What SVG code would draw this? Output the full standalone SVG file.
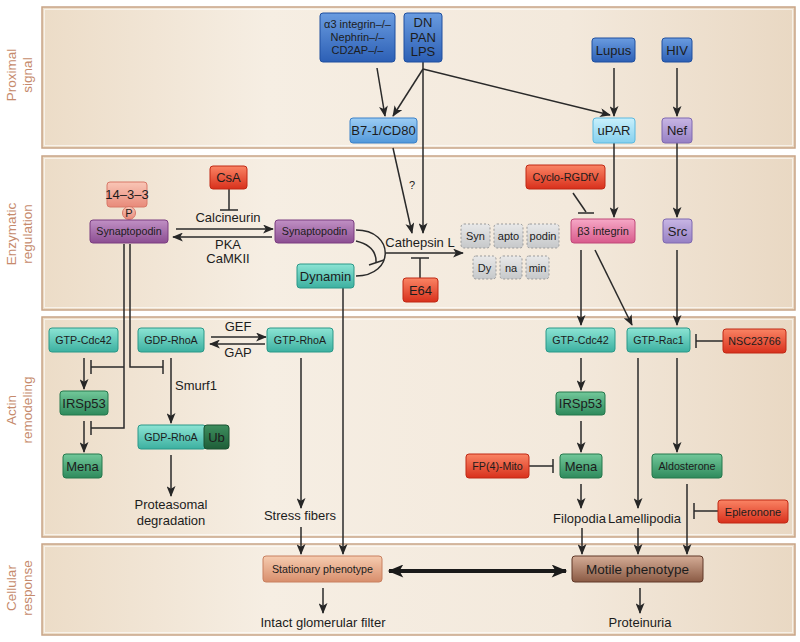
<svg xmlns="http://www.w3.org/2000/svg" width="800" height="642" viewBox="0 0 800 642">
<defs>
<linearGradient id="gPanel" x1="0" y1="0" x2="1" y2="0">
<stop offset="0" stop-color="#ecdcc7"/><stop offset="0.3" stop-color="#f6eee3"/><stop offset="0.7" stop-color="#f3e9dc"/><stop offset="1" stop-color="#e9d8c3"/>
</linearGradient>
<linearGradient id="gBlueD" x1="0" y1="0" x2="0" y2="1"><stop offset="0" stop-color="#6a9ce0"/><stop offset="1" stop-color="#2c5fb5"/></linearGradient>
<linearGradient id="gBlueL" x1="0" y1="0" x2="0" y2="1"><stop offset="0" stop-color="#9ccdf4"/><stop offset="1" stop-color="#5298da"/></linearGradient>
<linearGradient id="gCyan" x1="0" y1="0" x2="0" y2="1"><stop offset="0" stop-color="#c8f0fc"/><stop offset="1" stop-color="#86d0ee"/></linearGradient>
<linearGradient id="gLav" x1="0" y1="0" x2="0" y2="1"><stop offset="0" stop-color="#c8b6e4"/><stop offset="1" stop-color="#9680c4"/></linearGradient>
<linearGradient id="gPurp" x1="0" y1="0" x2="0" y2="1"><stop offset="0" stop-color="#c090c4"/><stop offset="1" stop-color="#8c4e92"/></linearGradient>
<linearGradient id="gSalm" x1="0" y1="0" x2="0" y2="1"><stop offset="0" stop-color="#f9c6b6"/><stop offset="1" stop-color="#e88a7a"/></linearGradient>
<linearGradient id="gRed" x1="0" y1="0" x2="0" y2="1"><stop offset="0" stop-color="#fa8464"/><stop offset="1" stop-color="#d8301c"/></linearGradient>
<linearGradient id="gPink" x1="0" y1="0" x2="0" y2="1"><stop offset="0" stop-color="#f6a8c6"/><stop offset="1" stop-color="#d85a8c"/></linearGradient>
<linearGradient id="gTeal" x1="0" y1="0" x2="0" y2="1"><stop offset="0" stop-color="#8ce4d4"/><stop offset="1" stop-color="#3cb0a0"/></linearGradient>
<linearGradient id="gGreen" x1="0" y1="0" x2="0" y2="1"><stop offset="0" stop-color="#72c89a"/><stop offset="1" stop-color="#2e8a5c"/></linearGradient>
<linearGradient id="gUb" x1="0" y1="0" x2="0" y2="1"><stop offset="0" stop-color="#3e8e5e"/><stop offset="1" stop-color="#1e5e38"/></linearGradient>
<linearGradient id="gGray" x1="0" y1="0" x2="0" y2="1"><stop offset="0" stop-color="#e8e8e8"/><stop offset="1" stop-color="#c6c8ca"/></linearGradient>
<linearGradient id="gStat" x1="0" y1="0" x2="0" y2="1"><stop offset="0" stop-color="#f6ccb0"/><stop offset="1" stop-color="#d88e6c"/></linearGradient>
<linearGradient id="gMot" x1="0" y1="0" x2="0" y2="1"><stop offset="0" stop-color="#d4ac96"/><stop offset="1" stop-color="#8a5a44"/></linearGradient>
<marker id="ah" viewBox="0 0 12 10" refX="11" refY="5" markerWidth="11" markerHeight="9" markerUnits="userSpaceOnUse" orient="auto">
<path d="M0,0 L12,5 L0,10 L3,5 z" fill="#262626"/>
</marker>
<marker id="ahb" viewBox="0 0 12 10" refX="11" refY="5" markerWidth="17" markerHeight="13" markerUnits="userSpaceOnUse" orient="auto-start-reverse">
<path d="M0,0 L12,5 L0,10 L3,5 z" fill="#1a1a1a"/>
</marker>
<style>
.panel{fill:url(#gPanel);stroke:#c8a486;stroke-width:1.5}
.pin{fill:none;stroke:#fff;stroke-opacity:0.6;stroke-width:1}
.lab{font-family:"Liberation Sans",Arial,sans-serif;font-size:13.5px;fill:#c68a6c;text-anchor:middle}
.t{font-family:"Liberation Sans",Arial,sans-serif;font-size:13px;fill:#1c1c1c;text-anchor:middle}
.s{font-size:11px}
.xs{font-size:10.7px}
.b{stroke-width:1;rx:3;ry:3}
.bd{fill:url(#gBlueD);stroke:#1f4f9f}
.bl{fill:url(#gBlueL);stroke:#3a80c8}
.cy{fill:url(#gCyan);stroke:#5ab8e0}
.lv{fill:url(#gLav);stroke:#7e68b0}
.pu{fill:url(#gPurp);stroke:#7a3c80}
.sa{fill:url(#gSalm);stroke:#d87868}
.rd{fill:url(#gRed);stroke:#c02814}
.pk{fill:url(#gPink);stroke:#c04878}
.tl{fill:url(#gTeal);stroke:#2a9888}
.gr{fill:url(#gGreen);stroke:#24784c}
.ub{fill:url(#gUb);stroke:#1a5030}
.gy{fill:url(#gGray);stroke:#9a9a9a;stroke-dasharray:2 2}
.st{fill:url(#gStat);stroke:#c88060}
.mo{fill:url(#gMot);stroke:#603828}
.c{fill:none;stroke:#2a2a2a;stroke-width:1.5}
.a{marker-end:url(#ah)}
</style>
</defs>

<g id="panels">
<rect class="panel" x="42" y="7" width="753" height="141"/>
<rect class="pin" x="44.5" y="9.5" width="748" height="136"/>
<rect class="panel" x="42" y="156" width="753" height="154"/>
<rect class="pin" x="44.5" y="158.5" width="748" height="149"/>
<rect class="panel" x="42" y="317" width="753" height="220"/>
<rect class="pin" x="44.5" y="319.5" width="748" height="215"/>
<rect class="panel" x="42" y="544" width="753" height="91"/>
<rect class="pin" x="44.5" y="546.5" width="748" height="86"/>
</g>

<g id="panel-labels">
<text class="lab" transform="translate(16,75) rotate(-90)">Proximal</text>
<text class="lab" transform="translate(32,75) rotate(-90)">signal</text>
<text class="lab" transform="translate(16,234) rotate(-90)">Enzymatic</text>
<text class="lab" transform="translate(32,234) rotate(-90)">regulation</text>
<text class="lab" transform="translate(16,410) rotate(-90)">Actin</text>
<text class="lab" transform="translate(32,410) rotate(-90)">remodeling</text>
<text class="lab" transform="translate(16,588) rotate(-90)">Cellular</text>
<text class="lab" transform="translate(32,588) rotate(-90)">response</text>
</g>

<g id="connectors">
<line class="c a" x1="377" y1="68" x2="385" y2="116"/>
<line class="c a" x1="423" y1="69" x2="393" y2="116"/>
<line class="c a" x1="423" y1="69" x2="610" y2="115"/>
<line class="c a" x1="423" y1="62" x2="423" y2="233"/>
<line class="c a" x1="614" y1="68" x2="614" y2="116"/>
<line class="c a" x1="677" y1="68" x2="677" y2="116"/>
<line class="c a" x1="393" y1="148" x2="412" y2="233"/>
<line class="c a" x1="614" y1="143" x2="614" y2="217"/>
<line class="c a" x1="677" y1="143" x2="677" y2="217"/>
<line class="c a" x1="581" y1="250" x2="581" y2="325"/>
<line class="c a" x1="595" y1="250" x2="632" y2="325"/>
<line class="c a" x1="677" y1="250" x2="677" y2="325"/>
<line class="c" x1="229" y1="189" x2="229" y2="210"/>
<line class="c" x1="220" y1="210" x2="238" y2="210"/>
<line class="c a" x1="176" y1="229" x2="273" y2="229"/>
<line class="c a" x1="272" y1="237" x2="173" y2="237"/>
<path class="c" d="M356,230 C395,230 395,276 356,276"/>
<line class="c a" x1="386" y1="253" x2="463" y2="253"/>
<path class="c" d="M356,241 Q377,246 376,263"/>
<line class="c" x1="369" y1="265" x2="384" y2="260"/>
<line class="c" x1="420" y1="278" x2="420" y2="258"/>
<line class="c" x1="411" y1="258" x2="429" y2="258"/>
<line class="c" x1="573" y1="193" x2="586" y2="212"/>
<line class="c" x1="578" y1="213" x2="594" y2="213"/>
<path class="c" d="M124,244 V428 H91 M124,367 H91"/>
<line class="c" x1="91" y1="360" x2="91" y2="374"/>
<line class="c" x1="91" y1="421" x2="91" y2="435"/>
<path class="c" d="M130,244 V367 H163"/>
<line class="c" x1="163" y1="360" x2="163" y2="374"/>
<line class="c a" x1="84" y1="358" x2="84" y2="389"/>
<line class="c a" x1="84" y1="421" x2="84" y2="452"/>
<line class="c a" x1="211" y1="337" x2="266" y2="337"/>
<line class="c a" x1="265" y1="344" x2="210" y2="344"/>
<line class="c a" x1="171" y1="358" x2="171" y2="423"/>
<line class="c a" x1="171" y1="455" x2="171" y2="496"/>
<line class="c a" x1="301" y1="358" x2="301" y2="508"/>
<line class="c a" x1="301" y1="527" x2="301" y2="554"/>
<line class="c a" x1="343" y1="288" x2="343" y2="554"/>
<line class="c a" x1="581" y1="358" x2="581" y2="390"/>
<line class="c a" x1="581" y1="421" x2="581" y2="452"/>
<line class="c a" x1="581" y1="484" x2="581" y2="508"/>
<line class="c" x1="529" y1="466" x2="553" y2="466"/>
<line class="c" x1="553" y1="459" x2="553" y2="473"/>
<line class="c a" x1="638" y1="358" x2="638" y2="508"/>
<line class="c a" x1="677" y1="358" x2="677" y2="452"/>
<line class="c" x1="723" y1="341" x2="696" y2="341"/>
<line class="c" x1="696" y1="334" x2="696" y2="348"/>
<line class="c a" x1="687" y1="484" x2="687" y2="554"/>
<line class="c" x1="718" y1="511" x2="694" y2="511"/>
<line class="c" x1="694" y1="503" x2="694" y2="519"/>
<line class="c a" x1="582" y1="528" x2="582" y2="554"/>
<line class="c a" x1="638" y1="528" x2="638" y2="554"/>
<line x1="389" y1="571" x2="566" y2="571" stroke="#1a1a1a" stroke-width="4" marker-start="url(#ahb)" marker-end="url(#ahb)"/>
<line class="c a" x1="323" y1="588" x2="323" y2="613"/>
<line class="c a" x1="640" y1="588" x2="640" y2="613"/>
</g>

<g id="n-a3"><rect class="b bd" x="320" y="13" width="75" height="49"/>
<text class="t s" x="357.5" y="28">α3 integrin–/–</text><text class="t s" x="357.5" y="41">Nephrin–/–</text><text class="t s" x="357.5" y="54">CD2AP–/–</text></g>
<g id="n-dn"><rect class="b bd" x="404" y="13" width="38" height="49"/>
<text class="t" x="423" y="27">DN</text><text class="t" x="423" y="41.5">PAN</text><text class="t" x="423" y="56">LPS</text></g>
<g id="n-lupus"><rect class="b bd" x="592" y="38" width="43" height="24"/><text class="t" x="613.5" y="54.5">Lupus</text></g>
<g id="n-hiv"><rect class="b bd" x="662" y="38" width="30" height="24"/><text class="t" x="677" y="54.5">HIV</text></g>
<g id="n-b7"><rect class="b bl" x="350" y="118" width="67" height="25"/><text class="t" x="383.5" y="135">B7-1/CD80</text></g>
<g id="n-upar"><rect class="b cy" x="593" y="118" width="42" height="25"/><text class="t" x="614" y="135">uPAR</text></g>
<g id="n-nef"><rect class="b lv" x="662" y="118" width="30" height="25"/><text class="t" x="677" y="135">Nef</text></g>

<g id="n-1433"><rect class="b sa" x="107" y="182" width="40" height="25"/><text class="t" x="127" y="199">14–3–3</text></g>
<g id="n-p"><circle cx="129" cy="213" r="6.5" fill="url(#gSalm)" stroke="#d87868"/><text class="t s" x="129" y="217">P</text></g>
<g id="n-synL"><rect class="b pu" x="90" y="220" width="78" height="23"/><text class="t xs" x="129" y="235.3">Synaptopodin</text></g>
<g id="n-csa"><rect class="b rd" x="210" y="166" width="37" height="23"/><text class="t" x="228.5" y="182">CsA</text></g>
<g id="t-calc"><text class="t" x="228" y="222">Calcineurin</text><text class="t" x="228" y="249">PKA</text><text class="t" x="228" y="263">CaMKII</text></g>
<g id="n-synR"><rect class="b pu" x="275" y="220" width="79" height="23"/><text class="t xs" x="314.5" y="235.3">Synaptopodin</text></g>
<g id="n-dyn"><rect class="b tl" x="297" y="264" width="57" height="24"/><text class="t" x="325.5" y="280.5">Dynamin</text></g>
<g id="n-cath"><text class="t" x="420" y="247">Cathepsin L</text></g>
<g id="t-q"><text class="t s" x="412" y="189">?</text></g>
<g id="n-e64"><rect class="b rd" x="403" y="278" width="35" height="24"/><text class="t" x="420.5" y="294.5">E64</text></g>
<g id="n-frag">
<rect class="b gy" x="461" y="224" width="29" height="24"/><text class="t s" x="475.5" y="240">Syn</text>
<rect class="b gy" x="494" y="224" width="29" height="24"/><text class="t s" x="508.5" y="240">apto</text>
<rect class="b gy" x="527" y="224" width="32" height="24"/><text class="t s" x="543" y="240">podin</text>
<rect class="b gy" x="473" y="256" width="23" height="23"/><text class="t s" x="484.5" y="271.5">Dy</text>
<rect class="b gy" x="500" y="256" width="22" height="23"/><text class="t s" x="511" y="271.5">na</text>
<rect class="b gy" x="526" y="256" width="23" height="23"/><text class="t s" x="537.5" y="271.5">min</text>
</g>
<g id="n-cyclo"><rect class="b rd" x="526" y="165" width="79" height="24"/><text class="t s" x="565.5" y="181">Cyclo-RGDfV</text></g>
<g id="n-b3"><rect class="b pk" x="571" y="219" width="64" height="24"/><text class="t s" x="603" y="235">β3 integrin</text></g>
<g id="n-src"><rect class="b lv" x="663" y="219" width="29" height="24"/><text class="t" x="677.5" y="235.5">Src</text></g>

<g id="n-cdc42L"><rect class="b tl" x="49" y="328" width="69" height="24"/><text class="t xs" x="83.5" y="343.8">GTP-Cdc42</text></g>
<g id="n-gdprhoa"><rect class="b tl" x="138" y="328" width="66" height="24"/><text class="t xs" x="171" y="343.8">GDP-RhoA</text></g>
<g id="n-gtprhoa"><rect class="b tl" x="267" y="328" width="66" height="24"/><text class="t xs" x="300" y="343.8">GTP-RhoA</text></g>
<g id="t-gefgap"><text class="t" x="238" y="331">GEF</text><text class="t" x="238" y="357">GAP</text></g>
<g id="n-irsL"><rect class="b gr" x="60" y="391" width="48" height="24"/><text class="t" x="84" y="407.5">IRSp53</text></g>
<g id="n-menaL"><rect class="b gr" x="63" y="454" width="39" height="24"/><text class="t" x="82.5" y="470.5">Mena</text></g>
<g id="t-smurf"><text class="t" x="175" y="390" style="text-anchor:start">Smurf1</text></g>
<g id="n-gdpub"><rect class="b tl" x="138" y="425" width="68" height="24"/><text class="t xs" x="171" y="441">GDP-RhoA</text>
<rect class="b ub" x="204" y="425" width="25" height="24"/><text class="t" x="216.5" y="441.5">Ub</text></g>
<g id="t-prot"><text class="t" x="171" y="509">Proteasomal</text><text class="t" x="171" y="525">degradation</text></g>
<g id="t-stress"><text class="t" x="300" y="520">Stress fibers</text></g>

<g id="n-cdc42R"><rect class="b tl" x="546" y="328" width="69" height="24"/><text class="t xs" x="580.5" y="343.8">GTP-Cdc42</text></g>
<g id="n-rac1"><rect class="b tl" x="627" y="328" width="63" height="24"/><text class="t xs" x="658.5" y="343.8">GTP-Rac1</text></g>
<g id="n-nsc"><rect class="b rd" x="723" y="329" width="63" height="24"/><text class="t xs" x="754.5" y="344.8">NSC23766</text></g>
<g id="n-irsR"><rect class="b gr" x="556" y="392" width="49" height="23"/><text class="t" x="580.5" y="408">IRSp53</text></g>
<g id="n-menaR"><rect class="b gr" x="560" y="454" width="42" height="24"/><text class="t" x="581" y="470.5">Mena</text></g>
<g id="n-fp"><rect class="b rd" x="466" y="454" width="63" height="24"/><text class="t xs" x="497.5" y="469.8">FP(4)-Mito</text></g>
<g id="n-aldo"><rect class="b gr" x="652" y="454" width="70" height="24"/><text class="t xs" x="687" y="469.8">Aldosterone</text></g>
<g id="n-eple"><rect class="b rd" x="718" y="500" width="70" height="23"/><text class="t s" x="753" y="515.5">Epleronone</text></g>
<g id="t-filo"><text class="t" x="579.5" y="523">Filopodia</text></g>
<g id="t-lamel"><text class="t" x="644.5" y="523">Lamellipodia</text></g>

<g id="n-stat"><rect class="b st" x="263" y="556" width="119" height="26"/><text class="t xs" x="322.5" y="573">Stationary phenotype</text></g>
<g id="n-mot"><rect class="b mo" x="572" y="556" width="131" height="26"/><text class="t" x="637.5" y="573.5" style="font-size:13.5px">Motile phenotype</text></g>
<g id="t-intact"><text class="t" x="323" y="627">Intact glomerular filter</text></g>
<g id="t-prot2"><text class="t" x="640" y="627">Proteinuria</text></g>
</svg>
